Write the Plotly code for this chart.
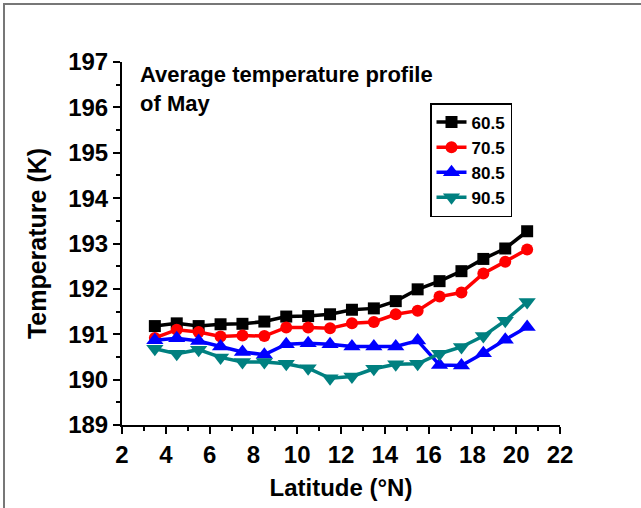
import plotly.graph_objects as go

latitude = [3.5, 4.5, 5.5, 6.5, 7.5, 8.5, 9.5, 10.5, 11.5, 12.5, 13.5, 14.5, 15.5, 16.5, 17.5, 18.5, 19.5, 20.5]
t_60_5 = [191.18, 191.24, 191.18, 191.22, 191.23, 191.28, 191.39, 191.40, 191.44, 191.54, 191.57, 191.73, 191.99, 192.17, 192.39, 192.66, 192.89, 193.27]
t_70_5 = [190.92, 191.10, 191.05, 190.95, 190.97, 190.96, 191.15, 191.15, 191.13, 191.24, 191.27, 191.44, 191.52, 191.83, 191.92, 192.34, 192.60, 192.87]
t_80_5 = [190.87, 190.91, 190.85, 190.73, 190.61, 190.55, 190.78, 190.80, 190.78, 190.73, 190.73, 190.73, 190.86, 190.32, 190.31, 190.58, 190.88, 191.16]
t_90_5 = [190.68, 190.57, 190.66, 190.49, 190.39, 190.39, 190.35, 190.25, 190.03, 190.07, 190.24, 190.34, 190.35, 190.57, 190.72, 190.96, 191.30, 191.71]

series_names = ["60.5", "70.5", "80.5", "90.5"]
series_values = [t_60_5, t_70_5, t_80_5, t_90_5]
colors = ["#000000", "#ff0000", "#0000ff", "#008080"]
symbols = ["square", "circle", "triangle-up", "triangle-down"]
marker_sizes = [12, 12, 15, 15]

FONT = "Liberation Sans, Arial, sans-serif"

fig = go.Figure()
for name, vals, c, s, ms in zip(series_names, series_values, colors, symbols, marker_sizes):
    fig.add_trace(go.Scatter(
        x=latitude, y=vals, name=name, mode="lines+markers",
        line=dict(color=c, width=3.5),
        marker=dict(symbol=s, size=ms, color=c),
    ))

W, H = 641, 508
L, R, T, B = 122, 81, 62, 83
pw, ph = W - L - R, H - T - B

axis_common = dict(
    showgrid=False, zeroline=False, showline=True, linecolor="black", linewidth=2,
    ticks="outside", ticklen=7, tickwidth=2, tickcolor="black",
    tickfont=dict(family=FONT, size=24, color="black", weight="bold"),
)

fig.update_layout(
    width=W, height=H,
    margin=dict(l=L, r=R, t=T, b=B),
    paper_bgcolor="white", plot_bgcolor="white",
    font=dict(family=FONT, color="black"),
    xaxis=dict(range=[2, 22], dtick=2, tick0=2,
               minor=dict(dtick=1, ticklen=4, tickwidth=2, tickcolor="black", ticks="outside"),
               title=dict(text="Latitude (°N)", font=dict(family=FONT, size=24, weight="bold"), standoff=12),
               **axis_common),
    yaxis=dict(range=[189, 197], dtick=1, tick0=189,
               minor=dict(dtick=0.5, ticklen=4, tickwidth=2, tickcolor="black", ticks="outside"),
               title=dict(text="Temperature (K)", font=dict(family=FONT, size=25, weight="bold"), standoff=14),
               **axis_common),
    legend=dict(
        x=(430 - L) / pw, y=(H - B - 103) / ph, xanchor="left", yanchor="top",
        bordercolor="black", borderwidth=1.5, bgcolor="white",
        font=dict(family=FONT, size=17, color="black", weight="bold"),
        tracegroupgap=0, itemwidth=30,
    ),
    showlegend=True,
)

fig.add_annotation(
    xref="paper", yref="paper", x=(138 - L) / pw, y=(H - B - 60) / ph,
    xanchor="left", yanchor="top", align="left", showarrow=False,
    text="Average temperature profile<br>of May",
    font=dict(family=FONT, size=22, color="black", weight="bold"),
)

# outer frame of the figure
fig.add_shape(type="rect", xref="paper", yref="paper",
              x0=(4 - L) / pw, x1=(W + 20 - L) / pw,
              y0=(H - B - (H + 20)) / ph, y1=(H - B - 4) / ph,
              line=dict(color="#777777", width=2), layer="below")

fig.write_html("out.html")
